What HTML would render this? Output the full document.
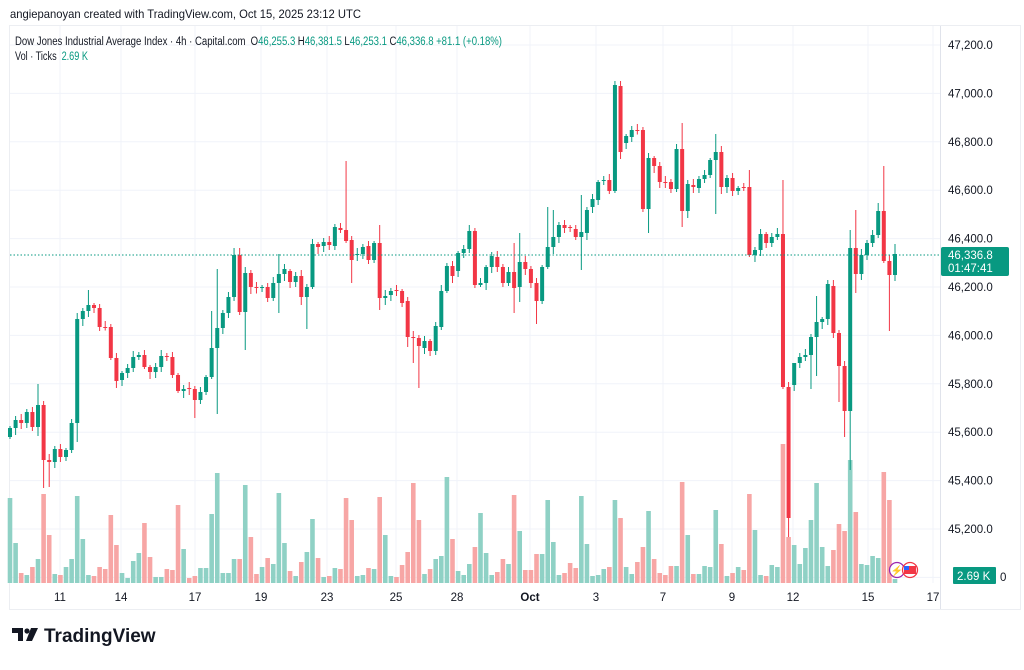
<!DOCTYPE html>
<html><head><meta charset="utf-8"><style>
body{margin:0;background:#fff;width:1024px;height:665px;overflow:hidden;font-family:"Liberation Sans",sans-serif;}
svg text{font-family:"Liberation Sans",sans-serif;}
</style></head><body>
<svg id="s" width="1024" height="665" xmlns="http://www.w3.org/2000/svg">
<rect x="0" y="0" width="1024" height="665" fill="#fff"/>
<text x="10" y="18" font-size="12" fill="#131722" textLength="351" lengthAdjust="spacingAndGlyphs">angiepanoyan created with TradingView.com, Oct 15, 2025 23:12 UTC</text>
<rect x="9.5" y="25.5" width="1011" height="584" fill="none" stroke="#eceef2"/>
<g id="grid"></g>
<g id="vol"></g>
<g id="cand"></g>
<line x1="10" y1="255" x2="940" y2="255" stroke="#089981" stroke-width="1" stroke-dasharray="1.5,2"/>
<line x1="940.5" y1="26" x2="940.5" y2="609" stroke="#e0e3eb"/>
<g id="plab" font-size="11.5" fill="#131722"></g>
<g id="tlab" font-size="11.5" fill="#131722" text-anchor="middle"></g>
<text x="15" y="45" font-size="11.5" fill="#131722" textLength="487" lengthAdjust="spacingAndGlyphs">Dow Jones Industrial Average Index · 4h · Capital.com <tspan dx="3">O</tspan><tspan fill="#089981">46,255.3</tspan><tspan dx="3">H</tspan><tspan fill="#089981">46,381.5</tspan><tspan dx="3">L</tspan><tspan fill="#089981">46,253.1</tspan><tspan dx="3">C</tspan><tspan fill="#089981">46,336.8</tspan><tspan dx="3" fill="#089981">+81.1 (+0.18%)</tspan></text>
<text x="15" y="60" font-size="11.5" fill="#131722" textLength="73" lengthAdjust="spacingAndGlyphs">Vol · Ticks <tspan dx="3" fill="#089981">2.69 K</tspan></text>
<rect x="941" y="247" width="68" height="29" rx="2" fill="#089981"/>
<text x="948" y="259" font-size="11.5" fill="#fff">46,336.8</text>
<text x="948" y="272" font-size="11.5" fill="#fff">01:47:41</text>
<rect x="953" y="567" width="43" height="17" rx="1" fill="#089981"/>
<text x="957" y="580" font-size="11.5" fill="#fff">2.69 K</text>
<circle cx="897" cy="570" r="7.5" fill="#fff" stroke="#9c27b0" stroke-width="1.3"/>
<text x="897" y="574" font-size="10" fill="#9c27b0" text-anchor="middle">⚡</text>
<circle cx="910" cy="570" r="7.5" fill="#fff" stroke="#f23645" stroke-width="1.3"/>
<rect x="904" y="566" width="12" height="8" fill="#f23645"/><rect x="904" y="566" width="5" height="4" fill="#2962ff"/>
<g transform="translate(12,628)">
<path d="M0 0h11v13h-5v-8h-6z" fill="#131722"/><circle cx="15" cy="3" r="2.6" fill="#131722"/><path d="M19 0h7l-6 13h-6z" fill="#131722"/>
<text x="32" y="14" font-size="19" font-weight="bold" fill="#131722">TradingView</text>
</g>
</svg>
<script>
(function(){
var NS="http://www.w3.org/2000/svg";
function el(p,t,a,tx){var e=document.createElementNS(NS,t);for(var k in a)e.setAttribute(k,a[k]);if(tx)e.textContent=tx;document.getElementById(p).appendChild(e);}
var prices=["47,200.0","47,000.0","46,800.0","46,600.0","46,400.0","46,200.0","46,000.0","45,800.0","45,600.0","45,400.0","45,200.0","45,000.0"];
for(var i=0;i<12;i++){var y=45+i*48.4;el("grid","line",{x1:10,y1:y,x2:940,y2:y,stroke:"#f0f3fa"});if(i<11)el("plab","text",{x:948,y:y+4},prices[i]);}
el("plab","text",{x:1000,y:581},"0");
var dates=[[60,"11"],[121,"14"],[195,"17"],[261,"19"],[327,"23"],[396,"25"],[457,"28"],[530,"Oct"],[596,"3"],[663,"7"],[732,"9"],[793,"12"],[868,"15"],[933,"17"]];
dates.forEach(function(d){if(d[0]<935)el("grid","line",{x1:d[0],y1:26,x2:d[0],y2:583,stroke:"#f0f3fa"});el("tlab","text",{x:d[0],y:601,"font-weight":d[1]=="Oct"?"bold":"normal"},d[1]);});
var C=[[437,428],[428,420],[420,423],[423,412],[412,427],[427,405],[405,460],[460,462],[462,449],[449,457],[457,450],[450,423],[423,319],[319,311],[311,305],[305,308],[308,327],[327,327.5],[327,358],[358,381],[380,373],[373,368],[368,357],[357,355],[355,367],[367,372],[372,367],[367,356],[356,357],[357,375],[375,391],[391,389],[388,389],[389,400],[400,392],[392,377],[377,348],[348,328],[328,313],[313,297],[297,255],[255,312],[312,273],
[273,287],[287,287.5],[287,287],[287,298],[298,283],[283,274],[274,269],[271,282],[282,276],[276,297],[297,287],[287,244],[244,247],[246,242],[242,245],[246,227],[228,230],[230,241],[240,260],[255,254],[254,247],[246,260],[260,243],[243,298],[298,296],[295,291],[290,291],[291,303],[301,337],[337,337.5],[338,346],[348,341],[341,351],[351,326],[327,291],[291,266],[266,276],[271,253],[253,249],[249,231],[231,285],[285,283],
[283,267],[267,256],[257,267],[267,283],[283,272],[272,288],[287,262],[262,269],[269,283],[283,301],[301,267],[267,247],[247,237],[237,225],[225,228],[227,228],[229,237],[237,232],[233,210],[207,199],[200,182],[181,180],[180,191],[191,85],[86,152],[143,136],[137,130],[130,130.5],[130,209],[209,158],[158,166],[166,182],[182,183],[182,189],[189,149],[149,211],[211,184],[185,187],[188,179],[179,175],[175,160],
[160,152],[152,187],[187,178],[178,191],[191,188],[187,188],[187,255],[255,250],[250,234],[234,243],[243,237],[237,234],[234,387],[387,518],[385,363],[363,357],[357,355],[355,337],[337,322],[322,319],[319,284],[286,333],[333,366],[366,411],[411,248],[248,274],[274,255],[255,243],[243,235],[235,211],[211,261],[261,275],[275,254]];
var V=[85,40,10,8,16,24,89,48,9,8,16,24,87,44,8,7,16,14,68,38,10,5,22,30,60,26,6,6,14,13,78,34,5,7,15,15,69,110,10,10,24,24,98,
46,9,16,25,19,90,40,12,7,21,31,64,25,6,7,15,14,85,63,7,8,15,14,86,48,7,6,18,31,100,63,9,14,24,27,106,44,12,8,19,36,70,
30,8,11,24,19,88,52,13,13,29,29,83,41,8,10,20,15,87,39,7,8,14,16,83,65,16,9,21,36,72,24,10,8,17,17,101,48,9,9,17,16,
73,39,7,10,16,13,89,53,8,7,18,16,139,46,38,19,35,63,100,36,17,33,59,52,123,71,19,18,27,25,111,83,4];
var W={5:[384,436],6:[null,488],7:[null,487],12:[null,442],14:[290,null],33:[null,418],36:[311,null],37:[269,414],40:[248,null],41:[248,null],42:[null,350],
48:[254,313],52:[null,305],53:[null,329],60:[161,null],61:[null,283],66:[225,310],71:[null,347],72:[null,363],73:[null,388],
90:[243,313],91:[233,302],94:[null,324],96:[207,null],97:[210,null],102:[195,270],108:[81,null],114:[null,233],120:[123,227],
126:[134,214],132:[170,null],138:[180,null],139:[null,537],140:[365,null],143:[null,389],144:[296,376],148:[null,402],149:[null,437],150:[230,470],151:[210,293],155:[203,null],156:[166,null],157:[null,331],158:[244,null]};
var sp=885/158;
for(var i=0;i<C.length;i++){
 var x=10+i*sp,o=C[i][0],c=C[i][1],up=c<=o;
 var bt=Math.min(o,c),bb=Math.max(o,c);
 var hi=bt-(2+(i*7)%5),lo=bb+(2+(i*11)%6);
 if(W[i]){if(W[i][0]!==null)hi=W[i][0];if(W[i][1]!==null)lo=W[i][1];}
 var col=up?"#089981":"#f23645";
 var v=V[i]||5;
 el("vol","rect",{x:x-2.3,y:583-v,width:4.6,height:v,fill:up?"#8fd1c5":"#f7a6a5"});
 el("cand","line",{x1:x,y1:hi,x2:x,y2:lo,stroke:col,"stroke-width":1});
 el("cand","rect",{x:x-2,y:bt,width:4,height:Math.max(1,bb-bt),fill:col});
}
})();
</script>
</body></html>
